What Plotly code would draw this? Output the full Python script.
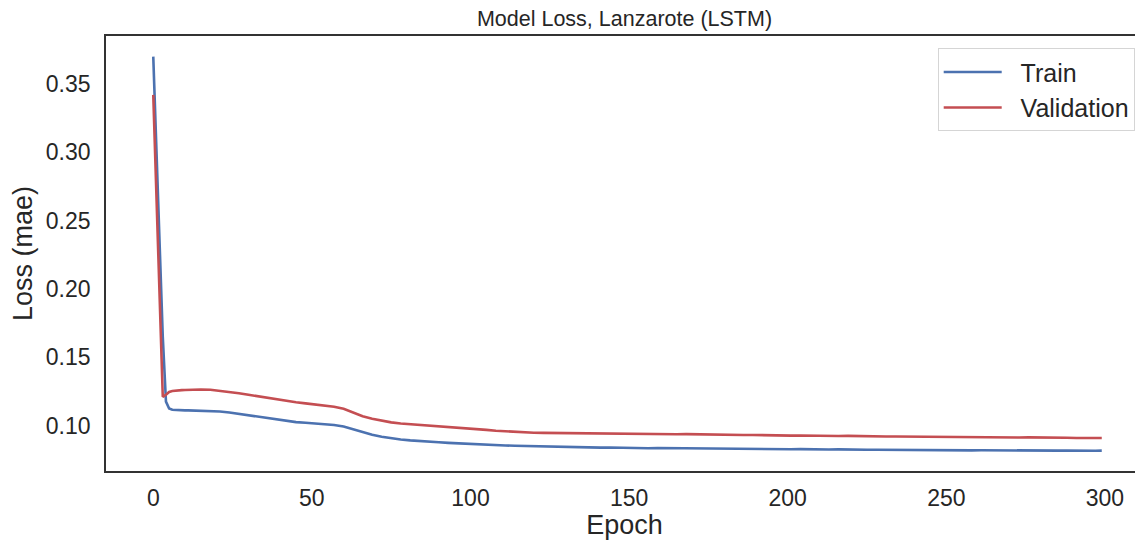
import plotly.graph_objects as go

epochs = list(range(13)) + list(range(15, 298, 3)) + [299]

train_loss = [
    # epochs 0-12
    0.370, 0.302, 0.234, 0.165, 0.1175, 0.1125, 0.1115, 0.1113, 0.1112, 0.1112, 0.1111, 0.1111, 0.1110,
    # epochs 15-135 (step 3)
    0.1110, 0.1108, 0.1103, 0.1095, 0.1085, 0.1073, 0.1062, 0.1051, 0.1040, 0.1032,
    0.1025, 0.1020, 0.1016, 0.1012, 0.1004, 0.0993, 0.0973, 0.0950, 0.0932, 0.0918,
    0.0906, 0.0898, 0.0891, 0.0885, 0.0881, 0.0877, 0.0873, 0.0869, 0.0867, 0.0864,
    0.0860, 0.0857, 0.0854, 0.0852, 0.0850, 0.0848, 0.0847, 0.0845, 0.0843, 0.0842,
    0.0840,
    # epochs 138-297 (step 3)
    0.0839, 0.0838, 0.0839, 0.0837, 0.0836, 0.0836, 0.0834, 0.0835, 0.0834, 0.0833,
    0.0834, 0.0832, 0.0831, 0.0832, 0.0830, 0.0830, 0.0829, 0.0830, 0.0828, 0.0828,
    0.0827, 0.0826, 0.0827, 0.0825, 0.0826, 0.0824, 0.0825, 0.0823, 0.0824, 0.0822,
    0.0823, 0.0822, 0.0821, 0.0822, 0.0820, 0.0821, 0.0820, 0.0819, 0.0820, 0.0819,
    0.0818, 0.0819, 0.0818, 0.0817, 0.0818, 0.0817, 0.0818, 0.0816, 0.0817, 0.0816,
    0.0817, 0.0815, 0.0816, 0.0815,
    # epoch 299
    0.0816,
]

val_loss = [
    # epochs 0-12
    0.342, 0.268, 0.195, 0.121, 0.1225, 0.1245, 0.1252, 0.1256, 0.1258, 0.1259, 0.1260, 0.1261, 0.1262,
    # epochs 15-135 (step 3)
    0.1264, 0.1262, 0.1255, 0.1245, 0.1236, 0.1225, 0.1214, 0.1202, 0.1188, 0.1178,
    0.1170, 0.1162, 0.1154, 0.1146, 0.1137, 0.1122, 0.1095, 0.1068, 0.1050, 0.1035,
    0.1023, 0.1015, 0.1010, 0.1007, 0.1003, 0.0996, 0.0990, 0.0984, 0.0978, 0.0974,
    0.0968, 0.0962, 0.0957, 0.0953, 0.0950, 0.0947, 0.0946, 0.0945, 0.0944, 0.0943,
    0.0943,
    # epochs 138-297 (step 3)
    0.0942, 0.0941, 0.0942, 0.0940, 0.0939, 0.0939, 0.0938, 0.0937, 0.0938, 0.0936,
    0.0937, 0.0935, 0.0934, 0.0934, 0.0932, 0.0932, 0.0930, 0.0931, 0.0929, 0.0928,
    0.0928, 0.0926, 0.0927, 0.0925, 0.0925, 0.0924, 0.0923, 0.0924, 0.0922, 0.0921,
    0.0922, 0.0920, 0.0920, 0.0919, 0.0919, 0.0918, 0.0917, 0.0918, 0.0916, 0.0916,
    0.0915, 0.0915, 0.0914, 0.0914, 0.0913, 0.0912, 0.0913, 0.0911, 0.0911, 0.0910,
    0.0910, 0.0909, 0.0909, 0.0908,
    # epoch 299
    0.0908,
]

assert len(epochs) == len(train_loss) == len(val_loss), (len(epochs), len(train_loss), len(val_loss))

series_names = ["Train", "Validation"]
x_ticks = [0, 50, 100, 150, 200, 250, 300]
y_ticks = [0.10, 0.15, 0.20, 0.25, 0.30, 0.35]

FONT = "Liberation Sans, Arial, sans-serif"
TXT = "#262626"
PAD = "\u00a0\u00a0"  # gap between legend line sample and its label

# The page body has an 8px default margin, so the figure is sized 8px smaller
W, H = 1135, 532

fig = go.Figure()
fig.add_trace(go.Scatter(x=epochs, y=train_loss, mode="lines", name=PAD + series_names[0],
                         line=dict(color="#4c72b0", width=2.6)))
fig.add_trace(go.Scatter(x=epochs, y=val_loss, mode="lines", name=PAD + series_names[1],
                         line=dict(color="#c44e52", width=2.6)))

fig.update_layout(
    width=W, height=H,
    margin=dict(l=98, r=0, t=28, b=69, autoexpand=False),
    paper_bgcolor="white", plot_bgcolor="white",
    font=dict(family=FONT, color=TXT),
    title=dict(text="Model Loss, Lanzarote (LSTM)", x=0.5, xref="paper",
               y=1 - 10 / H, yref="container", yanchor="middle", xanchor="center",
               font=dict(size=21.5, color=TXT, family=FONT)),
    legend=dict(x=0.992, y=0.972, xanchor="right", yanchor="top",
                bgcolor="white", bordercolor="#d5d5d5", borderwidth=1,
                font=dict(size=25, color=TXT, family=FONT),
                itemwidth=58, tracegroupgap=2),
    xaxis=dict(range=[-14.9, 312.0], tickvals=x_ticks, showgrid=False, zeroline=False,
               showline=True, linecolor="#333333", linewidth=1.6, mirror=True,
               ticks="", ticklabelstandoff=6, automargin=False,
               tickfont=dict(size=23, color=TXT, family=FONT),
               title=dict(text="Epoch", font=dict(size=27, color=TXT, family=FONT), standoff=1)),
    yaxis=dict(range=[0.0667, 0.3851], tickvals=y_ticks, tickformat=".2f",
               showgrid=False, zeroline=False,
               showline=True, linecolor="#333333", linewidth=1.6, mirror=False,
               ticks="", ticklabelstandoff=9, automargin=False,
               tickfont=dict(size=23, color=TXT, family=FONT),
               title=dict(text="Loss (mae)", font=dict(size=27, color=TXT, family=FONT), standoff=6)),
    showlegend=True,
)

fig.write_html("out.html")
